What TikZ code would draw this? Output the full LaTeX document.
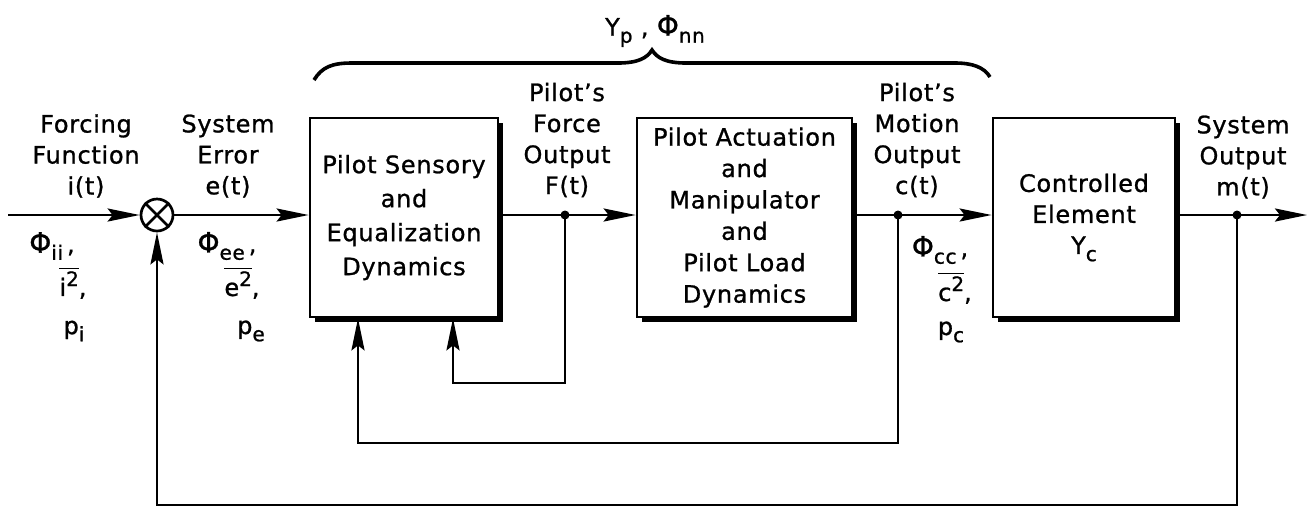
\documentclass[tikz,border=0pt]{standalone}
\usepackage{fontspec}
\setmainfont{DejaVu Sans}[LetterSpace=3.0,FakeBold=1]
\usetikzlibrary{arrows.meta,shadows}
\newcommand\sbs[1]{\raisebox{-0.55ex}{\fontsize{10}{10}\selectfont #1}}
\newcommand\sps[1]{\raisebox{0.75ex}{\fontsize{10}{10}\selectfont #1}}
\newcommand\ovl[1]{$\overline{\hbox{#1}}$}
\newcommand\Phs{{\fontsize{14}{14}\selectfont Φ}}
\begin{document}
\begin{tikzpicture}[x=0.5pt,y=-0.5pt,
  font=\fontsize{12}{15.5}\selectfont,
  ln/.style={line width=1.35pt},
  arr/.style={ln,-{Stealth[length=16pt,width=6.5pt,inset=2.5pt]}},
  blk/.style={draw,line width=1.35pt,fill=white,align=center,inner sep=0pt,
    drop shadow={shadow xshift=2.6pt,shadow yshift=-2.6pt,fill=black,opacity=1}},
  lbl/.style={align=center,inner sep=0pt},
  dotst/.style={circle,fill=black,inner sep=0pt,minimum size=4.5pt},
  bracest/.style={line width=1.8pt}]
\useasboundingbox (0,0) rectangle (1311,511);

% blocks
\node[blk,minimum width=94pt,minimum height=99.5pt,font=\fontsize{12}{17}\selectfont] (b1) at (404,217.5)
  {Pilot Sensory\\and\\Equalization\\Dynamics};
\node[blk,minimum width=107.5pt,minimum height=99.5pt,font=\fontsize{12}{15.7}\selectfont] (b2) at (744.5,217.5)
  {Pilot Actuation\\and\\Manipulator\\and\\Pilot Load\\Dynamics};
\node[blk,minimum width=91pt,minimum height=99.5pt] (b3) at (1084,217.5)
  {Controlled\\Element\\Y\sbs{c}};

% summing junction
\node[draw,circle,line width=1.35pt,minimum size=16pt,inner sep=0pt] (sum) at (157,215) {};
\draw[ln] (sum.north west) -- (sum.south east);
\draw[ln] (sum.north east) -- (sum.south west);

% coordinates
\coordinate (in) at (8,215);
\coordinate (out) at (1307,215);
\node[dotst] (j1) at (565,215) {};
\node[dotst] (j2) at (898,215) {};
\node[dotst] (j3) at (1237,215) {};
\coordinate (f1) at (453,383);
\coordinate (f2) at (358,443);
\coordinate (f3) at (157,505);

% forward path
\draw[arr] (in) -- (sum.west);
\draw[arr] (sum.east) -- (sum.east -| b1.west);
\draw[arr] (j1.center -| b1.east) -- (j1.center -| b2.west);
\draw[arr] (j2.center -| b2.east) -- (j2.center -| b3.west);
\draw[arr] (j3.center -| b3.east) -- (out);

% feedback loops
\draw[arr] (j1.center) |- (f1) -- (b1.south -| f1);
\draw[arr] (j2.center) |- (f2) -- (b1.south -| f2);
\draw[arr] (j3.center) |- (f3) -- (sum.south);

% brace
\coordinate (brl) at (314,80);
\coordinate (brt) at (652,50);
\coordinate (brr) at (990,77);
\draw[bracest] (brl) .. controls (322,67) and (332,63) .. (352,63) -- (618,63)
  .. controls (638,63) and (647,58) .. (brt)
  .. controls (657,58) and (666,63) .. (686,63) -- (955,63)
  .. controls (972,63) and (984,67) .. (brr);
\node[lbl] (yp) at (655,31) {Y\sbs{p} , \Phs\sbs{nn}};

% labels
\node[lbl] (lf) at (86,156) {Forcing\\Function\\i(t)};
\node[lbl] (le) at (228,156) {System\\Error\\e(t)};
\node[lbl] (lF) at (567,140) {Pilot's\\Force\\Output\\F(t)};
\node[lbl] (lc) at (917,140) {Pilot's\\Motion\\Output\\c(t)};
\node[lbl] (lm) at (1243,157) {System\\Output\\m(t)};

\node[lbl] (pii) at (52,246) {\Phs\sbs{ii}\,,};
\node[lbl] (i2) at (73,283) {\ovl{i\sps{2}},};
\node[lbl] (pi) at (74,331) {p\sbs{i}};
\node[lbl] (pee) at (227,246) {\Phs\sbs{ee}\,,};
\node[lbl] (e2) at (242,283) {\ovl{e\sps{2}},};
\node[lbl] (pe) at (251,331) {p\sbs{e}};
\node[lbl] (pcc) at (940,250) {\Phs\sbs{cc}\,,};
\node[lbl] (c2) at (955,288) {\ovl{c\sps{2}},};
\node[lbl] (pc) at (951,332) {p\sbs{c}};
\end{tikzpicture}
\end{document}
